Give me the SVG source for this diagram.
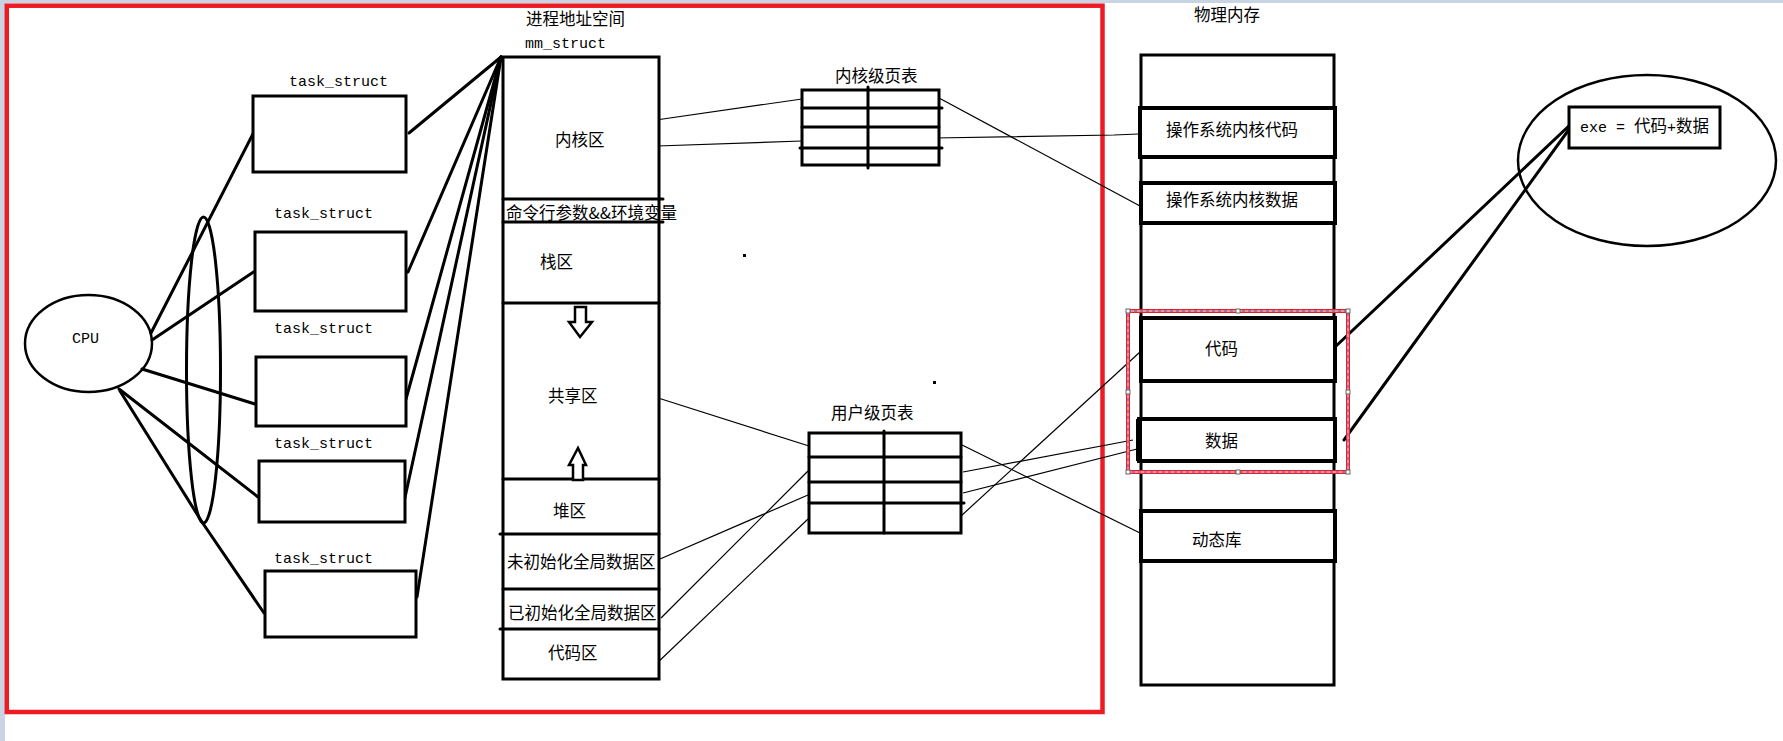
<svg xmlns="http://www.w3.org/2000/svg" width="1783" height="741" viewBox="0 0 1783 741">
<style>
.box{fill:#fff;stroke:#000;stroke-width:3}
.bx{fill:#fff;stroke:#000;stroke-width:4}
.ln{fill:none;stroke:#000;stroke-width:3;stroke-linecap:round}
.th{fill:none;stroke:#000;stroke-width:1.2}
.cn{font-family:"Noto Sans CJK SC","Noto Sans CJK TC",sans-serif;font-size:16.5px;fill:#000}
.mo{font-family:"Liberation Mono","DejaVu Sans Mono",monospace;font-size:15px;fill:#000}
</style>
<rect x="0" y="0" width="1783" height="741" fill="#fff"/>
<rect x="0" y="0" width="1783" height="3" fill="#c9d3e3"/>
<rect x="0" y="0" width="5" height="741" fill="#c9d3e3"/>
<rect id="frame" x="6.8" y="5.7" width="1095.7" height="706.3" fill="none" stroke="#ed1c24" stroke-width="4.5"/>

<g id="connectors">
<line class="ln" x1="151" y1="333" x2="256" y2="128"/>
<line class="ln" x1="152" y1="340" x2="255" y2="271"/>
<line class="ln" x1="142" y1="369" x2="255" y2="404"/>
<line class="ln" x1="119" y1="389" x2="258" y2="497"/>
<polyline class="ln" points="120,391 202,522 264,613"/>
<line class="ln" x1="409" y1="133" x2="501" y2="57"/>
<line class="ln" x1="408" y1="272" x2="501" y2="57"/>
<line class="ln" x1="406" y1="399" x2="501" y2="57"/>
<line class="ln" x1="404" y1="502" x2="501" y2="57"/>
<line class="ln" x1="417" y1="597" x2="501" y2="57"/>
<line class="th" x1="656" y1="120" x2="802" y2="99"/>
<line class="th" x1="657" y1="146" x2="802" y2="141"/>
<line class="th" x1="939" y1="98" x2="1140" y2="206"/>
<polyline class="th" points="935,138 1114,135 1138,134"/>
<line class="th" x1="655" y1="397" x2="809" y2="446"/>
<line class="th" x1="660" y1="559" x2="808" y2="495"/>
<line class="th" x1="661" y1="618" x2="808" y2="471"/>
<line class="th" x1="655" y1="665" x2="808" y2="519"/>
<line class="th" x1="956" y1="442" x2="1140" y2="533"/>
<line class="th" x1="963" y1="472" x2="1133" y2="440"/>
<line class="th" x1="963" y1="493" x2="1137" y2="449"/>
<line class="th" x1="961" y1="516" x2="1140" y2="352"/>
<line class="ln" x1="1572" y1="123" x2="1335" y2="347"/>
<line class="ln" x1="1570" y1="128" x2="1344" y2="440"/>
</g>

<g id="cpu">
<ellipse cx="88.5" cy="343.5" rx="63.5" ry="48.5" fill="none" stroke="#000" stroke-width="2.5"/>
<text class="mo" x="72" y="343">CPU</text>
</g>
<g id="bundle">
<ellipse cx="203.5" cy="370" rx="17" ry="153" fill="none" stroke="#000" stroke-width="3"/>
</g>

<g id="task1"><rect class="box" x="253" y="96" width="153" height="76"/><text class="mo" x="289" y="86">task_struct</text></g>
<g id="task2"><rect class="box" x="255" y="232" width="151" height="79"/><text class="mo" x="274" y="218">task_struct</text></g>
<g id="task3"><rect class="box" x="256" y="357" width="150" height="69"/><text class="mo" x="274" y="333">task_struct</text></g>
<g id="task4"><rect class="box" x="259" y="461" width="146" height="61"/><text class="mo" x="274" y="448">task_struct</text></g>
<g id="task5"><rect class="box" x="265" y="571" width="151" height="66"/><text class="mo" x="274" y="563">task_struct</text></g>

<g id="mm_struct">
<text class="cn" x="526" y="25">进程地址空间</text>
<text class="mo" x="525" y="48">mm_struct</text>
<rect class="box" x="503" y="57" width="156" height="622"/>
<line class="ln" x1="503" y1="199" x2="663" y2="199"/>
<line class="ln" x1="503" y1="222" x2="663" y2="222"/>
<line class="ln" x1="503" y1="303" x2="659" y2="303"/>
<line class="ln" x1="503" y1="479" x2="659" y2="479"/>
<line class="ln" x1="500" y1="534" x2="659" y2="534"/>
<line class="ln" x1="503" y1="589" x2="659" y2="589"/>
<line class="ln" x1="500" y1="629" x2="659" y2="629"/>
<text class="cn" x="555" y="146">内核区</text>
<text class="cn" x="506" y="219">命令行参数&amp;&amp;环境变量</text>
<text class="cn" x="540" y="268">栈区</text>
<polygon points="575,307 586,307 586,322 592,322 580,337 569,322 575,322" fill="#fff" stroke="#000" stroke-width="2.5"/>
<text class="cn" x="548" y="402">共享区</text>
<polygon points="578,448 586,465 583,465 583,480 573,480 573,465 569,465" fill="#fff" stroke="#000" stroke-width="2.5"/>
<text class="cn" x="553" y="517">堆区</text>
<text class="cn" x="507" y="568">未初始化全局数据区</text>
<text class="cn" x="508" y="619">已初始化全局数据区</text>
<text class="cn" x="548" y="659">代码区</text>
</g>

<g id="kernel_pt">
<text class="cn" x="835" y="82">内核级页表</text>
<rect class="box" x="802" y="90" width="137" height="75"/>
<line class="ln" x1="802" y1="108" x2="942" y2="108"/>
<line class="ln" x1="802" y1="127" x2="939" y2="127"/>
<line class="ln" x1="800" y1="148" x2="942" y2="148"/>
<line class="ln" x1="868" y1="87" x2="868" y2="168"/>
</g>

<g id="user_pt">
<text class="cn" x="831" y="419">用户级页表</text>
<rect class="box" x="809" y="433" width="152" height="100"/>
<line class="ln" x1="809" y1="457" x2="961" y2="457"/>
<line class="ln" x1="809" y1="482" x2="961" y2="482"/>
<line class="ln" x1="809" y1="503" x2="964" y2="503"/>
<line class="ln" x1="884" y1="431" x2="884" y2="533"/>
</g>

<rect x="743" y="254" width="3" height="3" fill="#000"/>
<rect x="933" y="381" width="3" height="3" fill="#000"/>

<g id="physical">
<text class="cn" x="1194" y="21">物理内存</text>
<rect class="box" x="1141" y="55" width="193" height="630"/>
<g id="os_code"><rect class="bx" x="1140" y="108" width="195" height="49"/><text class="cn" x="1166" y="136">操作系统内核代码</text></g>
<g id="os_data"><rect class="bx" x="1141" y="183" width="194" height="40"/><text class="cn" x="1166" y="206">操作系统内核数据</text></g>
<g id="code"><rect class="bx" x="1141" y="318" width="194" height="63"/><text class="cn" x="1205" y="355">代码</text></g>
<g id="data"><rect class="bx" x="1139" y="419" width="196" height="42"/><line x1="1139" y1="419" x2="1139" y2="461" stroke="#000" stroke-width="6"/><text class="cn" x="1205" y="447">数据</text></g>
<g id="dynlib"><rect class="bx" x="1141" y="511" width="194" height="50"/><text class="cn" x="1192" y="546">动态库</text></g>
</g>

<g id="selection">
<rect x="1128" y="311" width="220" height="161" fill="none" stroke="#ed1c24" stroke-width="4"/>
<rect x="1128" y="311" width="220" height="161" fill="none" stroke="#fff" stroke-width="1"/>
<rect x="1128" y="311" width="220" height="161" fill="none" stroke="#3a5fcd" stroke-width="1" stroke-dasharray="3 3"/>
<g fill="#fff" stroke="#666" stroke-width="1">
<rect x="1126" y="309" width="4" height="4"/><rect x="1236" y="309" width="4" height="4"/><rect x="1346" y="309" width="4" height="4"/>
<rect x="1126" y="390" width="4" height="4"/><rect x="1346" y="390" width="4" height="4"/>
<rect x="1126" y="470" width="4" height="4"/><rect x="1236" y="470" width="4" height="4"/><rect x="1346" y="470" width="4" height="4"/>
</g>
</g>

<g id="exe">
<ellipse cx="1647" cy="160.5" rx="129" ry="85.5" fill="none" stroke="#000" stroke-width="2.5"/>
<rect class="box" x="1569" y="107" width="151" height="41"/>
<text x="1580" y="132"><tspan class="mo">exe = </tspan><tspan class="cn">代码</tspan><tspan class="mo">+</tspan><tspan class="cn">数据</tspan></text>
</g>
</svg>
